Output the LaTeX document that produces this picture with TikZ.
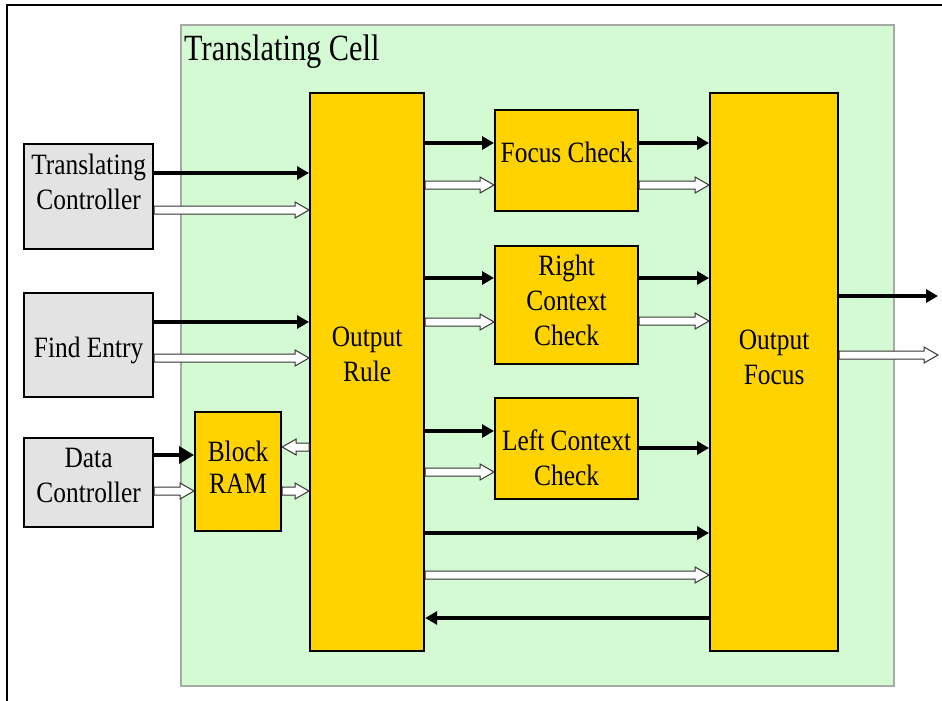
\documentclass[tikz,border=0pt]{standalone}
\usepackage{fontspec}
\setmainfont{Liberation Serif}[FakeStretch=0.86]
\usetikzlibrary{arrows.meta,calc}
\definecolor{cellgreen}{HTML}{D4FAD4}
\definecolor{cellborder}{HTML}{A8A8A8}
\definecolor{boxgold}{HTML}{FFD300}
\definecolor{boxgray}{HTML}{E3E3E3}
\tikzset{
  blockbox/.style={draw=black, line width=2.2pt, fill=boxgold, inner sep=0pt, anchor=north west},
  srcbox/.style={draw=black, line width=2.2pt, fill=boxgray, inner sep=0pt, anchor=north west},
  txt/.style={align=center, inner sep=0pt, font=\fontsize{29.5}{35}\selectfont},
  blk/.style={line width=3.5pt, -{Triangle[length=12pt,width=13pt]}},
  hol/.style={draw=black!80, fill=white, line width=1pt, line join=miter},
}
\newcommand\holarrow[2]{%
  \path[hol] let \p1=#1, \p2=#2, \n1={sign(\x2-\x1)} in
    (\x1,{\y1+4pt}) -- ({\x2-\n1*14pt},{\y1+4pt}) -- ({\x2-\n1*14pt},{\y1+8pt})
    -- (\x2,\y1) -- ({\x2-\n1*14pt},{\y1-8pt}) -- ({\x2-\n1*14pt},{\y1-4pt})
    -- (\x1,{\y1-4pt}) -- cycle;}
\begin{document}
\begin{tikzpicture}[x=1pt,y=-1pt]
\useasboundingbox (0,0) rectangle (942,701);
% outer frame
\draw[line width=2.5pt] (7,701) -- (7,5) -- (942,5);
% cell
\node[draw=cellborder, line width=2pt, fill=cellgreen, minimum width=713, minimum height=661, anchor=north west, inner sep=0pt] (cell) at (180,24) {};
\node[anchor=base west, inner sep=0pt, font=\fontsize{37}{42}\selectfont\addfontfeature{FakeStretch=0.82}] (title) at (184,60) {Translating Cell};
% row coordinates
\coordinate (ra) at (0,173);
\coordinate (rb) at (0,210);
\coordinate (rc) at (0,322);
\coordinate (rd) at (0,358);
\coordinate (re) at (0,455);
\coordinate (rf) at (0,491);
\coordinate (rg) at (0,447);
\coordinate (rh) at (0,143);
\coordinate (ri) at (0,185);
\coordinate (rj) at (0,278);
\coordinate (rk) at (0,321);
\coordinate (rl) at (0,431);
\coordinate (rm) at (0,472);
\coordinate (rn) at (0,448);
\coordinate (ro) at (0,533);
\coordinate (rp) at (0,575);
\coordinate (rq) at (0,618);
\coordinate (out1) at (938,296);
\coordinate (out2) at (938,355);
% source boxes
\node[srcbox, minimum width=129, minimum height=105] (tc) at (23,143) {};
\node[srcbox, minimum width=129, minimum height=104] (fe) at (23,292) {};
\node[srcbox, minimum width=129, minimum height=89] (dc) at (23,437) {};
% blocks
\node[blockbox, minimum width=86, minimum height=119] (br) at (194,411) {};
\node[blockbox, minimum width=114, minimum height=558] (or) at (309,92) {};
\node[blockbox, minimum width=143, minimum height=101] (fc) at (494,109) {};
\node[blockbox, minimum width=143, minimum height=118] (rcc) at (494,245) {};
\node[blockbox, minimum width=143, minimum height=101] (lcc) at (494,397) {};
\node[blockbox, minimum width=128, minimum height=558] (of) at (709,92) {};
% texts
\node[txt] (tct) at ([yshift=15]tc.center) {Translating\\Controller};
\node[txt] (fet) at ([yshift=-5]fe.center) {Find Entry};
\node[txt] (dct) at ([yshift=7]dc.center) {Data\\Controller};
\node[txt, font=\fontsize{29.5}{32}\selectfont] (brt) at ([yshift=4]br.center) {Block\\RAM};
\node[txt] (ort) at ([yshift=18]or.center) {Output\\Rule};
\node[txt] (fct) at ([yshift=8]fc.center) {Focus Check};
\node[txt] (rcct) at ([yshift=5]rcc.center) {Right\\Context\\Check};
\node[txt] (lcct) at ([yshift=-9]lcc.center) {Left Context\\Check};
\node[txt] (oft) at ([yshift=14.5]of.center) {Output\\Focus};
% black arrows
\draw[blk] (tc.east |- ra) -- (or.west |- ra);
\draw[blk] (fe.east |- rc) -- (or.west |- rc);
\draw[blk, -{Triangle[length=15pt,width=17pt]}] (dc.east |- re) -- (br.west |- re);
\draw[blk] (or.east |- rh) -- (fc.west |- rh);
\draw[blk] (fc.east |- rh) -- (of.west |- rh);
\draw[blk] (or.east |- rj) -- (rcc.west |- rj);
\draw[blk] (rcc.east |- rj) -- (of.west |- rj);
\draw[blk] (or.east |- rl) -- (lcc.west |- rl);
\draw[blk] (lcc.east |- rn) -- (of.west |- rn);
\draw[blk] (or.east |- ro) -- (of.west |- ro);
\draw[blk] (of.west |- rq) -- (or.east |- rq);
\draw[blk] (of.east |- out1) -- (out1);
% hollow arrows
\holarrow{(tc.east |- rb)}{(or.west |- rb)}
\holarrow{(fe.east |- rd)}{(or.west |- rd)}
\holarrow{(dc.east |- rf)}{(br.west |- rf)}
\holarrow{(or.west |- rg)}{(br.east |- rg)}
\holarrow{(br.east |- rf)}{(or.west |- rf)}
\holarrow{(or.east |- ri)}{(fc.west |- ri)}
\holarrow{(fc.east |- ri)}{(of.west |- ri)}
\holarrow{(or.east |- rc)}{(rcc.west |- rc)}
\holarrow{(rcc.east |- rk)}{(of.west |- rk)}
\holarrow{(or.east |- rm)}{(lcc.west |- rm)}
\holarrow{(or.east |- rp)}{(of.west |- rp)}
\holarrow{(of.east |- out2)}{(out2)}
\end{tikzpicture}
\end{document}
